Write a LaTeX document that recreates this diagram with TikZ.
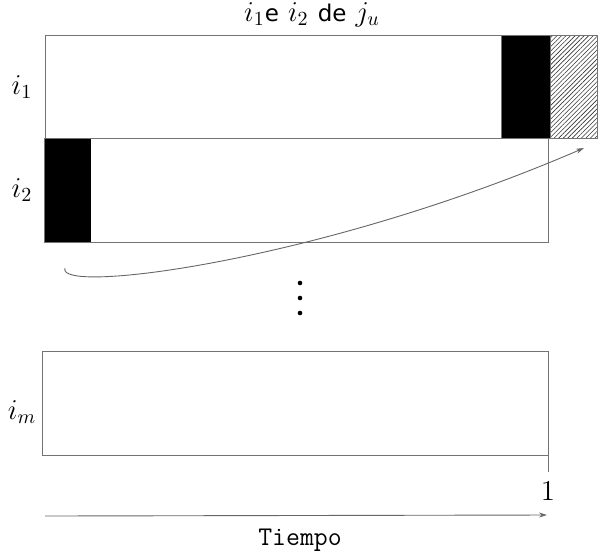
\documentclass[tikz,border=0pt]{standalone}
\usepackage{fontspec}
\newfontfamily\dvs{DejaVu Sans}
\usetikzlibrary{patterns.meta,arrows.meta}
\begin{document}
\begin{tikzpicture}[x=0.5pt,y=-0.5pt,
  box/.style={draw=black!55,line width=0.5pt},
  blk/.style={fill=black},
  lab/.style={font=\fontsize{14}{16}\selectfont},
  conn/.style={draw=black!60,line width=0.45pt,-{Stealth[length=4pt,width=2.5pt]}}]
\useasboundingbox (0,0) rectangle (608,552);
% i1
\fill[blk] (501,35) rectangle (550,138);
\fill[pattern={Lines[angle=45,distance=1.6pt,line width=0.3pt]},pattern color=black!80] (550,35) rectangle (597,138);
\draw[box] (45,35) rectangle (597,138);
\draw[box] (501,35) -- (501,138) (550,35) -- (550,138);
% i2
\fill[blk] (44,138) rectangle (91,242);
\draw[box] (44,138) rectangle (548,242);
% im
\draw[box] (42,351) rectangle (548,455);
\draw[box] (548,455) -- (548,472);
% labels
\node[lab] (l1) at (22,87) {$i_1$};
\node[lab] (l2) at (22,190) {$i_2$};
\node[lab] (lm) at (22,412) {$i_m$};
\node[lab] (one) at (548,491) {$1$};
\node[lab] (title) at (312,15) {$i_1${\dvs\fontsize{11.5}{13}\selectfont e} $i_2$ {\dvs\fontsize{11.5}{13}\selectfont de} $j_u$};
\node (tiempo) at (300,540) {\ttfamily\fontsize{13.5}{15}\selectfont Tiempo};
% dots
\foreach \y [count=\k] in {283,298,313} \fill (300,\y) circle (2.3);
% curve
\coordinate (cs) at (65,268);
\coordinate (ce) at (584,148);
\draw[conn] (cs) .. controls (55,295) and (320,262) .. (ce);
% time axis
\coordinate (ts) at (45,516);
\coordinate (te) at (547,515);
\draw[conn] (ts) -- (te);
\end{tikzpicture}
\end{document}
